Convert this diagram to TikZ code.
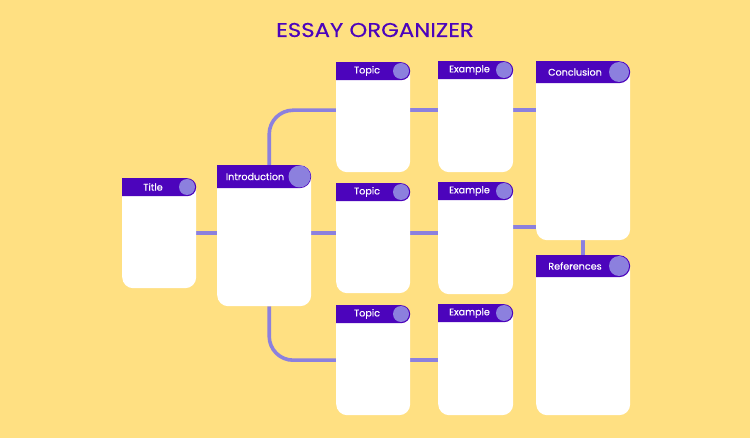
\documentclass[tikz,border=0pt]{standalone}
\usepackage{fontspec}
\setmainfont{Poppins}
\newfontfamily\labfont[FakeBold=0.6]{Poppins}
\newfontfamily\headfont[FakeBold=0.2]{Poppins}
\usetikzlibrary{shapes.misc}
\definecolor{bgyel}{RGB}{255,224,130}
\definecolor{hdrpur}{RGB}{76,4,188}
\definecolor{lilac}{RGB}{140,128,222}
\pgfdeclarelayer{bg}
\pgfdeclarelayer{lines}
\pgfsetlayers{bg,lines,main}
\tikzset{
  cardbody/.style={draw=none, fill=white, rounded corners=11pt, inner sep=0pt, anchor=north west},
  cardhead/.style={rounded rectangle, rounded rectangle left arc=none, fill=hdrpur, draw=none, inner sep=0pt, anchor=north west},
  dot/.style={circle, fill=lilac, draw=none, inner sep=0pt},
  cardlabel/.style={text=white, font=\labfont\fontsize{9.6}{11}\selectfont, inner sep=0pt},
  conn/.style={draw=lilac, line width=3.6pt},
}
% #1 name, #2 x, #3 y, #4 width, #5 height, #6 header height, #7 dot radius, #8 label
\newcommand{\orgcard}[8]{%
  \node[cardbody, minimum width=#4pt, minimum height=#5pt] (#1) at (#2,#3) {};
  \node[cardhead, minimum width=#4pt, minimum height=#6pt] (#1h) at (#2,#3) {};
  \node[dot, minimum size=2*#7pt] (#1c) at (#2+#4-#6/2,#3+#6/2) {};
  \node[cardlabel] (#1t) at (#2+#4/2-#7+2,#3+#6/2) {#8};
}
\begin{document}
\begin{tikzpicture}[x=1pt,y=-1pt]
\begin{pgfonlayer}{bg}
\fill[bgyel] (0,0) rectangle (750,438);
\end{pgfonlayer}
\useasboundingbox (0,0) rectangle (750,438);
\node[text=hdrpur, font=\headfont\fontsize{20}{24}\selectfont, inner sep=0pt] (heading) at (375,30) {\scalebox{1.14}[1]{ESSAY ORGANIZER}};

\orgcard{title}{122}{178}{74}{110}{18}{8}{Title}
\orgcard{intro}{217}{165}{94}{141}{23}{11}{Introduction}
\orgcard{topicA}{336}{62}{74}{110}{18}{8}{Topic}
\orgcard{topicB}{336}{183}{74}{110}{18}{8}{Topic}
\orgcard{topicC}{336}{305}{74}{110}{18}{8}{Topic}
\orgcard{exA}{438}{61}{75}{111}{18}{8}{Example}
\orgcard{exB}{438}{182}{75}{112}{18}{8}{Example}
\orgcard{exC}{438}{304}{75}{111}{18}{8}{Example}
\orgcard{concl}{536}{61}{94}{179}{22}{10}{Conclusion}
\orgcard{refs}{536}{255}{94}{160}{22}{10}{References}

\begin{pgfonlayer}{lines}
\coordinate (midrow) at (title.east);
\coordinate (toprow) at ([yshift=7pt]topicA.west);
\coordinate (exBc) at ([yshift=11pt]exB.east);
\draw[conn] (midrow) -- (midrow -| intro.west);
\draw[conn] (midrow -| intro.east) -- (midrow -| topicB.west);
\draw[conn] (midrow -| topicB.east) -- (midrow -| exB.west);
\draw[conn] (exBc) -- (exBc -| concl.west);
\draw[conn, rounded corners=24pt] ([xshift=5pt]intro.north) |- (toprow);
\draw[conn] (toprow -| topicA.east) -- (toprow -| exA.west);
\draw[conn] (toprow -| exA.east) -- (toprow -| concl.west);
\draw[conn, rounded corners=24pt] ([xshift=5pt]intro.south) |- (topicC.west);
\draw[conn] (topicC.east) -- (topicC.east -| exC.west);
\draw[conn] (concl.south) -- (refs.north);
\end{pgfonlayer}
\end{tikzpicture}
\end{document}
